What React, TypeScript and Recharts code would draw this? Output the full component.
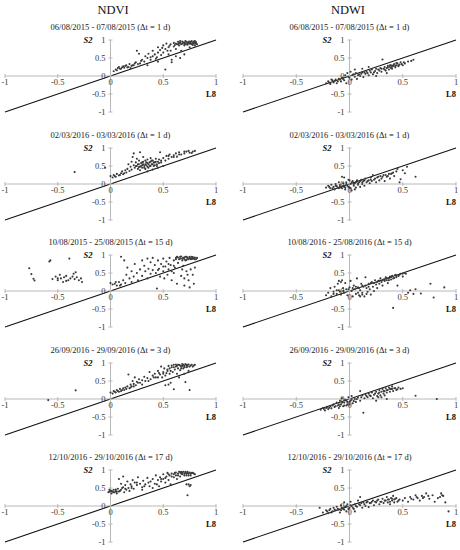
import React from "react";
import { ScatterChart, Scatter, XAxis, YAxis, ReferenceLine, ReferenceDot } from "recharts";

type Pt = [number, number];

const columnTitles = ["NDVI", "NDWI"];
const periodTitles = [
  ["06/08/2015 - 07/08/2015 (\u0394t = 1 d)", "06/08/2015 - 07/08/2015 (\u0394t = 1 d)"],
  ["02/03/2016 - 03/03/2016 (\u0394t = 1 d)", "02/03/2016 - 03/03/2016 (\u0394t = 1 d)"],
  ["10/08/2015 - 25/08/2015 (\u0394t = 15 d)", "10/08/2016 - 25/08/2016 (\u0394t = 15 d)"],
  ["26/09/2016 - 29/09/2016 (\u0394t = 3 d)", "26/09/2016 - 29/09/2016 (\u0394t = 3 d)"],
  ["12/10/2016 - 29/10/2016 (\u0394t = 17 d)", "12/10/2016 - 29/10/2016 (\u0394t = 17 d)"],
];
const xTicks = [-1, -0.5, 0, 0.5, 1];
const yTicks = [1, 0.5, 0, -0.5, -1];
const xAxisName = "L8";
const yAxisName = "S2";

// NDVI, 06/08/2015
const ndviAug2015: Pt[] = [
  [0.03, 0.13], [0.05, 0.18], [0.07, 0.22], [0.08, 0.25], [0.1, 0.2], [0.12, 0.27], [0.13, 0.23], [0.15, 0.3],
  [0.17, 0.25], [0.18, 0.33], [0.2, 0.28], [0.22, 0.3], [0.24, 0.38], [0.25, 0.7], [0.27, 0.62], [0.28, 0.35],
  [0.3, 0.45], [0.32, 0.4], [0.33, 0.55], [0.35, 0.5], [0.36, 0.62], [0.38, 0.45], [0.4, 0.7], [0.4, 0.55],
  [0.42, 0.6], [0.43, 0.48], [0.45, 0.65], [0.45, 0.8], [0.47, 0.72], [0.48, 0.58], [0.5, 0.85], [0.5, 0.65],
  [0.52, 0.75], [0.52, 0.18], [0.53, 0.9], [0.55, 0.6], [0.55, 0.8], [0.57, 0.7], [0.57, 0.88], [0.58, 0.45],
  [0.6, 0.82], [0.6, 0.92], [0.62, 0.75], [0.62, 0.55], [0.63, 0.88], [0.64, 0.95], [0.65, 0.85], [0.66, 0.92],
  [0.67, 0.7], [0.68, 0.9], [0.68, 0.96], [0.7, 0.85], [0.7, 0.93], [0.71, 0.97], [0.72, 0.88], [0.73, 0.92],
  [0.74, 0.95], [0.75, 0.8], [0.75, 0.9], [0.76, 0.94], [0.77, 0.88], [0.78, 0.92], [0.79, 0.96], [0.8, 0.85],
  [0.8, 0.93], [0.81, 0.9], [0.66, 0.5], [0.7, 0.6], [0.58, 0.38], [0.35, 0.3], [0.45, 0.4],
  [0.62, 0.9], [0.64, 0.88], [0.66, 0.97], [0.69, 0.93], [0.7, 0.89], [0.72, 0.95], [0.73, 0.87], [0.74, 0.91],
  [0.76, 0.9], [0.77, 0.97], [0.78, 0.86], [0.79, 0.9], [0.8, 0.97], [0.81, 0.94], [0.82, 0.88], [0.75, 0.96],
  [0.71, 0.9], [0.67, 0.88], [0.65, 0.92], [0.61, 0.86], [0.56, 0.84], [0.54, 0.7], [0.49, 0.78], [0.44, 0.52],
  [0.38, 0.52], [0.29, 0.42], [0.23, 0.35], [0.19, 0.22], [0.14, 0.28], [0.09, 0.2], [0.06, 0.16], [0.11, 0.24],
  [0.16, 0.24], [0.21, 0.3], [0.26, 0.33],
];

// NDWI, 06/08/2015
const ndwiAug2015: Pt[] = [
  [-0.22, -0.2], [-0.2, -0.15], [-0.18, -0.22], [-0.16, -0.12], [-0.15, -0.18], [-0.13, -0.1], [-0.12, -0.2],
  [-0.1, -0.08], [-0.08, -0.15], [-0.07, -0.05], [-0.05, -0.12], [-0.04, 0.02], [-0.03, -0.2], [-0.02, 0.08],
  [0, -0.05], [0.01, 0.12], [0.02, -0.1], [0.03, 0.03], [0.05, -0.02], [0.06, 0.08], [0.07, -0.08], [0.09, 0.05],
  [0.1, 0.0], [0.12, 0.1], [0.13, -0.03], [0.15, 0.06], [0.16, 0.12], [0.18, 0.02], [0.2, 0.1], [0.21, 0.18],
  [0.22, 0.05], [0.24, 0.14], [0.25, 0.2], [0.26, 0.08], [0.28, 0.15], [0.29, 0.22], [0.3, 0.12], [0.31, 0.46],
  [0.32, 0.2], [0.33, 0.25], [0.34, 0.15], [0.35, 0.22], [0.36, 0.28], [0.37, 0.18], [0.38, 0.25], [0.39, 0.3],
  [0.4, 0.2], [0.41, 0.28], [0.42, 0.33], [0.43, 0.24], [0.44, 0.3], [0.45, 0.35], [0.46, 0.27], [0.47, 0.32],
  [0.48, 0.38], [0.5, 0.3], [0.52, 0.35], [0.55, 0.4], [0.58, 0.42], [0.6, 0.45], [0.18, 0.25], [0.12, 0.2],
  [0.05, 0.18], [0.25, 0.0], [0.35, 0.08],
  [-0.19, -0.18], [-0.17, -0.1], [-0.14, -0.14], [-0.11, -0.15], [-0.09, -0.1], [-0.06, -0.08], [-0.01, -0.02],
  [0.04, 0.05], [0.08, 0.02], [0.11, 0.06], [0.14, 0.1], [0.17, 0.08], [0.19, 0.15], [0.23, 0.1], [0.27, 0.18],
  [0.3, 0.2], [0.33, 0.18], [0.36, 0.24], [0.39, 0.22], [0.41, 0.3], [0.43, 0.28], [0.44, 0.36], [0.46, 0.3],
  [0.49, 0.33], [0.51, 0.38], [0.38, 0.3], [0.4, 0.26],
];

// NDVI, 02/03/2016
const ndviMar2016: Pt[] = [
  [-0.34, 0.33], [-0.05, 0.45], [0.0, 0.22], [0.02, 0.18], [0.03, 0.25], [0.05, 0.2], [0.06, 0.28], [0.08, 0.24],
  [0.1, 0.3], [0.11, 0.35], [0.12, 0.27], [0.14, 0.38], [0.15, 0.32], [0.16, 0.42], [0.17, 0.55], [0.18, 0.36],
  [0.19, 0.48], [0.2, 0.62], [0.2, 0.4], [0.21, 0.75], [0.22, 0.52], [0.22, 0.85], [0.23, 0.45], [0.24, 0.6],
  [0.25, 0.5], [0.25, 0.7], [0.26, 0.42], [0.27, 0.55], [0.27, 0.65], [0.28, 0.48], [0.28, 0.88], [0.29, 0.58],
  [0.3, 0.45], [0.3, 0.52], [0.31, 0.62], [0.31, 0.75], [0.32, 0.5], [0.33, 0.55], [0.33, 0.42], [0.34, 0.6],
  [0.35, 0.48], [0.35, 0.68], [0.36, 0.55], [0.37, 0.5], [0.38, 0.62], [0.38, 0.72], [0.39, 0.55], [0.4, 0.65],
  [0.41, 0.5], [0.42, 0.6], [0.43, 0.7], [0.44, 0.55], [0.45, 0.62], [0.46, 0.68], [0.47, 0.88], [0.48, 0.6],
  [0.5, 0.72], [0.5, 0.5], [0.52, 0.65], [0.53, 0.78], [0.55, 0.7], [0.56, 0.82], [0.58, 0.75], [0.6, 0.8],
  [0.62, 0.85], [0.63, 0.76], [0.65, 0.88], [0.67, 0.82], [0.7, 0.85], [0.72, 0.9], [0.75, 0.87], [0.78, 0.9],
  [0.8, 0.92], [0.35, 0.35], [0.28, 0.38], [0.4, 0.4], [0.45, 0.45],
  [0.24, 0.5], [0.26, 0.55], [0.27, 0.47], [0.29, 0.5], [0.3, 0.6], [0.31, 0.55], [0.32, 0.45], [0.33, 0.65],
  [0.34, 0.52], [0.35, 0.58], [0.36, 0.45], [0.37, 0.6], [0.38, 0.5], [0.39, 0.65], [0.4, 0.55], [0.41, 0.6],
  [0.42, 0.52], [0.43, 0.62], [0.44, 0.5], [0.46, 0.58], [0.48, 0.65], [0.55, 0.78], [0.6, 0.75], [0.65, 0.82],
  [0.7, 0.9], [0.74, 0.92], [0.77, 0.86], [0.09, 0.25], [0.13, 0.3], [0.04, 0.22],
];

// NDWI, 02/03/2016
const ndwiMar2016: Pt[] = [
  [-0.22, -0.1], [-0.2, -0.05], [-0.18, -0.12], [-0.17, -0.02], [-0.15, -0.08], [-0.14, -0.15], [-0.13, 0.0],
  [-0.12, -0.06], [-0.1, -0.12], [-0.1, 0.05], [-0.09, -0.03], [-0.08, -0.1], [-0.07, 0.2], [-0.06, 0.02],
  [-0.05, -0.08], [-0.04, -0.15], [-0.03, 0.05], [-0.02, -0.05], [-0.01, 0.12], [0, -0.1], [0.01, 0.0],
  [0.02, -0.18], [0.03, 0.08], [0.04, -0.05], [0.05, 0.02], [0.06, -0.1], [0.07, 0.1], [0.08, -0.02],
  [0.09, 0.05], [0.1, -0.08], [0.11, 0.12], [0.12, 0.0], [0.13, 0.08], [0.14, -0.05], [0.15, 0.15], [0.16, 0.05],
  [0.18, 0.1], [0.19, 0.02], [0.2, 0.18], [0.21, 0.08], [0.22, 0.25], [0.23, 0.12], [0.25, 0.05], [0.26, 0.18],
  [0.28, 0.1], [0.29, 0.22], [0.3, 0.15], [0.32, 0.25], [0.33, 0.08], [0.35, 0.2], [0.37, 0.28], [0.38, 0.15],
  [0.4, 0.3], [0.42, 0.22], [0.44, 0.35], [0.45, 0.42], [0.47, 0.05], [0.48, 0.13], [0.5, 0.38], [0.52, 0.3],
  [0.54, 0.48], [0.62, 0.2], [-0.05, 0.18], [0.0, 0.1], [0.05, -0.15],
  [-0.19, -0.08], [-0.16, -0.12], [-0.13, -0.05], [-0.11, -0.1], [-0.09, -0.08], [-0.07, -0.12], [-0.06, -0.05],
  [-0.04, -0.1], [-0.03, 0.0], [-0.01, -0.08], [0.01, -0.12], [0.02, 0.05], [0.04, 0.0], [0.06, 0.05],
  [0.08, 0.02], [0.1, 0.08], [0.12, 0.05], [0.14, 0.1], [0.17, 0.08], [0.2, 0.12], [0.24, 0.15], [0.27, 0.2],
  [0.31, 0.2], [0.34, 0.25], [0.36, 0.22], [0.39, 0.28], [0.41, 0.32],
];

// NDVI, 10/08/2015 - 25/08/2015
const ndviAug2015b: Pt[] = [
  [-0.77, 0.63], [-0.75, 0.47], [-0.73, 0.34], [-0.72, 0.29], [-0.58, 0.82], [-0.57, 0.85], [-0.39, 0.9],
  [-0.55, 0.33], [-0.52, 0.4], [-0.5, 0.3], [-0.48, 0.45], [-0.47, 0.35], [-0.45, 0.25], [-0.44, 0.38],
  [-0.42, 0.42], [-0.4, 0.3], [-0.38, 0.35], [-0.36, 0.4], [-0.35, 0.48], [-0.34, 0.33], [-0.33, 0.52],
  [-0.32, 0.38], [-0.3, 0.3], [-0.28, 0.35], [-0.27, 0.25], [-0.42, 0.28], [-0.5, 0.35],
  [0.0, 0.22], [0.02, 0.18], [0.04, 0.2], [0.06, 0.15], [0.08, 0.25], [0.1, 0.18], [0.1, 0.95], [0.12, 0.3],
  [0.13, 0.85], [0.14, 0.22], [0.15, 0.45], [0.16, 0.65], [0.18, 0.35], [0.2, 0.55], [0.2, 0.25], [0.22, 0.4],
  [0.23, 0.75], [0.25, 0.5], [0.26, 0.3], [0.28, 0.6], [0.3, 0.42], [0.3, 0.85], [0.32, 0.7], [0.33, 0.55],
  [0.35, 0.35], [0.35, 0.9], [0.36, 0.62], [0.38, 0.48], [0.38, 0.8], [0.4, 0.58], [0.4, 0.92], [0.42, 0.72],
  [0.43, 0.5], [0.44, 0.07], [0.45, 0.85], [0.46, 0.62], [0.47, 0.4], [0.48, 0.75], [0.5, 0.9], [0.5, 0.55],
  [0.51, 0.35], [0.52, 0.68], [0.53, 0.82], [0.54, 0.45], [0.55, 0.6], [0.56, 0.92], [0.57, 0.72], [0.58, 0.3],
  [0.6, 0.85], [0.6, 0.5], [0.61, 0.65], [0.62, 0.92], [0.63, 0.2], [0.64, 0.78], [0.65, 0.88], [0.66, 0.95],
  [0.67, 0.42], [0.68, 0.9], [0.69, 0.7], [0.7, 0.93], [0.7, 0.15], [0.71, 0.85], [0.72, 0.95], [0.72, 0.55],
  [0.73, 0.9], [0.74, 0.3], [0.75, 0.92], [0.75, 0.1], [0.76, 0.88], [0.77, 0.95], [0.78, 0.45], [0.78, 0.9],
  [0.79, 0.2], [0.8, 0.93], [0.8, 0.65], [0.81, 0.88], [0.68, 0.6], [0.58, 0.55],
  [0.62, 0.88], [0.64, 0.93], [0.66, 0.9], [0.67, 0.96], [0.69, 0.92], [0.7, 0.88], [0.71, 0.95], [0.73, 0.93],
  [0.74, 0.88], [0.75, 0.95], [0.76, 0.91], [0.77, 0.89], [0.78, 0.94], [0.79, 0.9], [0.8, 0.88], [0.82, 0.92],
  [0.63, 0.95], [0.68, 0.85], [0.72, 0.86], [0.6, 0.7], [0.55, 0.75], [0.5, 0.68], [0.45, 0.58], [0.7, 0.35],
  [0.76, 0.6], [0.73, 0.45], [0.05, 0.25], [0.09, 0.15],
];

// NDWI, 10/08/2016 - 25/08/2016
const ndwiAug2016: Pt[] = [
  [-0.22, -0.12], [-0.2, -0.05], [-0.18, 0.08], [-0.17, -0.15], [-0.15, -0.02], [-0.14, 0.12], [-0.12, -0.08],
  [-0.11, 0.2], [-0.1, 0.02], [-0.08, -0.1], [-0.07, 0.3], [-0.06, 0.08], [-0.05, -0.05], [-0.04, 0.22],
  [-0.03, 0.05], [-0.02, -0.12], [0, 0.1], [0.01, 0.28], [0.02, 0.0], [0.03, -0.15], [0.04, 0.15], [0.05, 0.05],
  [0.06, -0.08], [0.07, 0.35], [0.08, 0.1], [0.09, -0.12], [0.1, 0.02], [0.11, 0.2], [0.12, -0.05], [0.13, 0.12],
  [0.14, -0.15], [0.15, 0.38], [0.16, 0.08], [0.17, -0.02], [0.18, 0.2], [0.19, 0.05], [0.2, -0.1], [0.21, 0.25],
  [0.22, 0.12], [0.23, 0.0], [0.24, 0.3], [0.25, 0.18], [0.26, 0.08], [0.27, 0.28], [0.28, 0.2], [0.29, 0.35],
  [0.3, 0.25], [0.31, 0.15], [0.32, 0.32], [0.33, 0.28], [0.34, 0.38], [0.35, 0.3], [0.36, 0.22], [0.37, 0.35],
  [0.38, 0.4], [0.39, 0.32], [0.4, 0.42], [0.41, -0.47], [0.42, 0.36], [0.43, 0.45], [0.44, 0.38], [0.45, 0.15],
  [0.46, 0.42], [0.48, 0.48], [0.5, 0.4], [0.52, 0.5], [0.55, -0.05], [0.57, 0.02], [0.6, -0.08], [0.62, 0.05],
  [0.67, -0.07], [0.76, 0.2], [0.79, -0.18], [0.89, 0.1],
  [-0.15, -0.08], [-0.12, 0.02], [-0.09, -0.02], [-0.06, 0.0], [-0.01, 0.05], [0.03, 0.08], [0.06, 0.12],
  [0.09, 0.08], [0.12, 0.15], [0.15, 0.15], [0.18, 0.12], [0.2, 0.22], [0.23, 0.22], [0.26, 0.25], [0.28, 0.28],
  [0.31, 0.3], [0.33, 0.32], [0.35, 0.35], [0.37, 0.3], [0.39, 0.38], [0.41, 0.35], [0.44, 0.42], [0.47, 0.45],
  [0.5, 0.48], [0.53, 0.48], [0.08, -0.05], [0.12, -0.1], [0.16, -0.08], [0.1, -0.15], [-0.08, 0.25], [-0.1, 0.28],
];

// NDVI, 26/09/2016
const ndviSep2016: Pt[] = [
  [-0.59, -0.03], [-0.33, 0.24], [0.0, 0.18], [0.02, 0.15], [0.03, 0.22], [0.05, 0.18], [0.06, 0.25], [0.08, 0.2],
  [0.09, 0.28], [0.1, 0.22], [0.12, 0.3], [0.13, 0.25], [0.14, 0.32], [0.15, 0.28], [0.16, 0.35], [0.17, 0.68],
  [0.18, 0.3], [0.19, 0.4], [0.2, 0.35], [0.21, 0.5], [0.22, 0.42], [0.23, 0.6], [0.24, 0.38], [0.25, 0.48],
  [0.27, 0.55], [0.28, 0.45], [0.3, 0.52], [0.32, 0.62], [0.33, 0.5], [0.35, 0.58], [0.37, 0.75], [0.38, 0.55],
  [0.4, 0.65], [0.42, 0.7], [0.43, 0.6], [0.45, 0.78], [0.47, 0.68], [0.48, 0.9], [0.49, 0.6], [0.5, 0.75],
  [0.51, 0.85], [0.52, 0.65], [0.53, 0.72], [0.54, 0.82], [0.55, 0.92], [0.55, 0.4], [0.56, 0.7], [0.57, 0.78],
  [0.58, 0.88], [0.59, 0.75], [0.6, 0.27], [0.6, 0.95], [0.61, 0.82], [0.62, 0.9], [0.63, 0.7], [0.64, 0.85],
  [0.65, 0.95], [0.66, 0.8], [0.67, 0.9], [0.68, 0.97], [0.69, 0.85], [0.7, 0.92], [0.71, 0.47], [0.71, 0.97],
  [0.72, 0.88], [0.73, 0.95], [0.74, 0.78], [0.75, 0.25], [0.76, 0.93], [0.78, 0.9], [0.8, 0.95], [0.52, 0.38],
  [0.57, 0.45], [0.3, 0.4], [0.45, 0.6],
  [0.58, 0.93], [0.6, 0.88], [0.62, 0.96], [0.63, 0.92], [0.64, 0.95], [0.66, 0.93], [0.67, 0.85], [0.68, 0.92],
  [0.69, 0.95], [0.7, 0.88], [0.72, 0.94], [0.73, 0.9], [0.74, 0.96], [0.75, 0.9], [0.77, 0.95], [0.79, 0.93],
  [0.56, 0.85], [0.54, 0.78], [0.5, 0.7], [0.46, 0.72], [0.41, 0.6], [0.36, 0.5], [0.26, 0.45], [0.22, 0.35],
  [0.19, 0.32], [0.11, 0.25], [0.07, 0.22], [0.04, 0.2], [0.65, 0.6], [0.7, 0.7],
];

// NDWI, 26/09/2016
const ndwiSep2016: Pt[] = [
  [-0.27, -0.3], [-0.25, -0.25], [-0.23, -0.32], [-0.21, -0.22], [-0.2, -0.28], [-0.18, -0.2], [-0.17, -0.26],
  [-0.15, -0.15], [-0.14, -0.22], [-0.12, -0.1], [-0.11, -0.18], [-0.1, -0.25], [-0.09, -0.05], [-0.08, -0.15],
  [-0.07, 0.02], [-0.06, -0.2], [-0.05, -0.1], [-0.04, -0.02], [-0.03, -0.18], [-0.02, -0.08], [-0.01, 0.05],
  [0, -0.15], [0.01, -0.05], [0.02, 0.08], [0.03, -0.12], [0.05, 0.0], [0.06, -0.08], [0.08, 0.05], [0.1, 0.22],
  [0.1, -0.05], [0.12, 0.1], [0.13, -0.38], [0.14, 0.02], [0.15, 0.12], [0.17, 0.05], [0.18, 0.15], [0.2, 0.08],
  [0.21, 0.18], [0.22, 0.02], [0.23, 0.12], [0.25, 0.2], [0.26, 0.08], [0.27, 0.15], [0.28, 0.25], [0.29, 0.1],
  [0.3, 0.2], [0.31, 0.28], [0.32, 0.15], [0.33, 0.22], [0.34, 0.3], [0.35, 0.18], [0.36, 0.25], [0.37, 0.32],
  [0.38, 0.2], [0.39, 0.28], [0.4, 0.35], [0.41, 0.22], [0.42, 0.3], [0.44, 0.25], [0.46, 0.32], [0.48, 0.28],
  [0.5, 0.3], [0.62, 0.09], [0.82, 0.0], [0.25, -0.05], [0.3, 0.05], [0.35, 0.0],
  [-0.24, -0.28], [-0.22, -0.25], [-0.19, -0.24], [-0.16, -0.18], [-0.13, -0.2], [-0.1, -0.15], [-0.09, -0.2],
  [-0.07, -0.1], [-0.05, -0.18], [-0.03, -0.05], [-0.02, -0.15], [0, -0.08], [0.02, -0.02], [0.04, -0.06],
  [0.07, 0.0], [0.11, 0.05], [0.16, 0.08], [0.19, 0.1], [0.24, 0.15], [0.28, 0.18], [0.32, 0.22], [0.35, 0.25],
  [0.38, 0.28], [0.4, 0.28], [0.43, 0.3], [0.45, 0.27], [0.27, 0.05], [0.33, 0.1],
];

// NDVI, 12/10/2016 - 29/10/2016
const ndviOct2016: Pt[] = [
  [-0.02, 0.38], [-0.01, 0.45], [0.0, 0.42], [0.01, 0.35], [0.02, 0.4], [0.03, 0.45], [0.04, 0.38], [0.05, 0.42],
  [0.06, 0.35], [0.07, 0.48], [0.08, 0.4], [0.08, 0.75], [0.1, 0.45], [0.1, 0.62], [0.12, 0.52], [0.12, 0.82],
  [0.13, 0.38], [0.14, 0.58], [0.15, 0.45], [0.16, 0.68], [0.17, 0.5], [0.18, 0.42], [0.19, 0.6], [0.2, 0.55],
  [0.21, 0.72], [0.22, 0.48], [0.23, 0.65], [0.25, 0.58], [0.26, 0.8], [0.28, 0.62], [0.3, 0.52], [0.31, 0.7],
  [0.33, 0.6], [0.35, 0.78], [0.37, 0.55], [0.38, 0.68], [0.4, 0.75], [0.42, 0.62], [0.43, 0.85], [0.45, 0.72],
  [0.46, 0.55], [0.47, 0.8], [0.48, 0.68], [0.5, 0.88], [0.5, 0.75], [0.52, 0.65], [0.53, 0.82], [0.54, 0.92],
  [0.55, 0.72], [0.56, 0.85], [0.57, 0.6], [0.58, 0.9], [0.6, 0.8], [0.61, 0.92], [0.62, 0.85], [0.63, 0.75],
  [0.64, 0.9], [0.65, 0.95], [0.66, 0.82], [0.67, 0.9], [0.68, 0.88], [0.69, 0.95], [0.7, 0.85], [0.71, 0.92],
  [0.72, 0.9], [0.73, 0.3], [0.73, 0.95], [0.74, 0.85], [0.75, 0.55], [0.76, 0.9], [0.78, 0.92], [0.8, 0.88],
  [0.72, 0.6], [0.4, 0.5], [0.3, 0.45],
  [0.6, 0.88], [0.62, 0.93], [0.64, 0.85], [0.66, 0.93], [0.67, 0.95], [0.68, 0.92], [0.7, 0.9], [0.71, 0.95],
  [0.72, 0.85], [0.73, 0.92], [0.74, 0.9], [0.75, 0.93], [0.76, 0.85], [0.77, 0.92], [0.79, 0.9], [0.58, 0.82],
  [0.55, 0.88], [0.52, 0.78], [-0.01, 0.4], [0.01, 0.42], [0.03, 0.38], [0.05, 0.46], [0.06, 0.4], [0.09, 0.42],
  [0.11, 0.5], [0.14, 0.48], [0.2, 0.5], [0.25, 0.65], [0.32, 0.55], [0.36, 0.65], [0.44, 0.6], [0.48, 0.75],
  [0.74, 0.6], [0.76, 0.58],
];

// NDWI, 12/10/2016 - 29/10/2016
const ndwiOct2016: Pt[] = [
  [-0.28, -0.05], [-0.25, -0.18], [-0.22, -0.12], [-0.2, -0.2], [-0.18, -0.08], [-0.16, -0.15], [-0.15, -0.05],
  [-0.13, -0.12], [-0.12, -0.02], [-0.1, -0.1], [-0.09, -0.18], [-0.08, 0.02], [-0.06, -0.08], [-0.05, 0.1],
  [-0.04, -0.02], [-0.03, -0.15], [-0.02, 0.05], [0, -0.05], [0.01, 0.12], [0.02, 0.0], [0.04, -0.08], [0.05, 0.05],
  [0.07, -0.02], [0.08, 0.15], [0.1, 0.02], [0.12, -0.05], [0.13, 0.1], [0.15, 0.0], [0.17, 0.12], [0.18, -0.03],
  [0.2, 0.08], [0.22, 0.15], [0.23, 0.02], [0.25, 0.1], [0.27, 0.18], [0.28, 0.05], [0.3, 0.12], [0.31, 0.2],
  [0.32, 0.08], [0.34, 0.15], [0.35, 0.25], [0.36, 0.1], [0.37, 0.18], [0.38, 0.05], [0.39, 0.22], [0.4, 0.15],
  [0.41, 0.28], [0.42, 0.1], [0.43, 0.2], [0.45, 0.12], [0.47, 0.18], [0.5, 0.15], [0.52, 0.22], [0.55, 0.12],
  [0.57, 0.25], [0.6, 0.18], [0.62, 0.3], [0.64, 0.22], [0.66, 0.15], [0.68, 0.28], [0.7, 0.25], [0.72, 0.35],
  [0.75, 0.2], [0.78, 0.3], [0.8, 0.12], [0.83, 0.22], [0.86, 0.35], [0.88, 0.28], [0.9, 0.1], [0.93, -0.15],
  [0.05, -0.15], [0.1, 0.25],
  [-0.21, -0.15], [-0.19, -0.12], [-0.17, -0.18], [-0.14, -0.1], [-0.11, -0.08], [-0.08, -0.12], [-0.07, -0.05],
  [-0.05, -0.1], [-0.03, 0.0], [-0.01, -0.08], [0.01, 0.02], [0.03, -0.05], [0.06, 0.0], [0.09, 0.05],
  [0.11, 0.08], [0.14, 0.05], [0.16, 0.1], [0.19, 0.08], [0.21, 0.12], [0.24, 0.12], [0.26, 0.15], [0.29, 0.12],
  [0.33, 0.15], [0.36, 0.18], [0.38, 0.12], [0.4, 0.2], [0.42, 0.18], [0.44, 0.22], [0.46, 0.15], [0.58, 0.2],
  [0.63, 0.25], [0.69, 0.22], [0.74, 0.28], [0.85, 0.25], [0.87, 0.3],
];

const ndviSets = [ndviAug2015, ndviMar2016, ndviAug2015b, ndviSep2016, ndviOct2016];
const ndwiSets = [ndwiAug2015, ndwiMar2016, ndwiAug2016, ndwiSep2016, ndwiOct2016];

const FONT = "Liberation Serif";
const AXIS = "#b8b8b8";
const LABEL = "#3a3a3a";

function Dot(props: any) {
  return <circle cx={props.cx} cy={props.cy} r={1.05} fill="#3a3a3a" />;
}

function Panel({ data, title, left, top, ml, mr }: { data: Pt[]; title: string; left: number; top: number; ml: number; mr: number }) {
  const pts = data.map(([x, y]) => ({ x, y }));
  return (
    <div style={{ position: "absolute", left, top, width: 230, height: 122 }}>
      <div
        style={{
          position: "absolute",
          top: 21,
          left: ml,
          width: 230 - ml - mr,
          textAlign: "center",
          fontSize: 8.5,
          lineHeight: "12px",
          color: "#222",
          whiteSpace: "nowrap",
          fontFamily: FONT,
        }}
      >
        {title}
      </div>
      <ScatterChart width={230} height={122} margin={{ top: 40, right: mr, bottom: 10, left: ml }} style={{ position: "absolute", top: 0, left: 0 }}>
        <XAxis type="number" dataKey="x" domain={[-1, 1]} hide allowDataOverflow />
        <YAxis type="number" dataKey="y" domain={[-1, 1]} hide allowDataOverflow />
        <ReferenceLine y={0} stroke={AXIS} strokeWidth={1} />
        <ReferenceLine x={0} stroke={AXIS} strokeWidth={1} />
        {xTicks.map((t) => (
          <ReferenceDot
            key={"x" + t}
            x={t}
            y={0}
            r={0}
            shape={(p: any) => (
              <g>
                <line x1={p.cx} x2={p.cx} y1={p.cy - 2} y2={p.cy + 2} stroke={AXIS} />
                <text x={p.cx} y={p.cy + 9} textAnchor="middle" fontSize={8.5} fontFamily={FONT} fill={LABEL}>
                  {String(t)}
                </text>
              </g>
            )}
          />
        ))}
        {yTicks.map((t) => (
          <ReferenceDot
            key={"y" + t}
            x={0}
            y={t}
            r={0}
            shape={(p: any) => (
              <g>
                <line x1={p.cx - 2} x2={p.cx + 2} y1={p.cy} y2={p.cy} stroke={AXIS} />
                <text x={p.cx - 5} y={p.cy + 3} textAnchor="end" fontSize={8.5} fontFamily={FONT} fill={LABEL}>
                  {String(t)}
                </text>
              </g>
            )}
          />
        ))}
        <ReferenceDot
          x={0}
          y={1}
          r={0}
          shape={(p: any) => (
            <text x={p.cx - 18} y={p.cy + 3} textAnchor="end" fontSize={8.5} fontFamily={FONT} fontWeight="bold" fontStyle="italic" fill="#111">
              {yAxisName}
            </text>
          )}
        />
        <ReferenceDot
          x={1}
          y={-0.5}
          r={0}
          shape={(p: any) => (
            <text x={p.cx} y={p.cy + 3} textAnchor="end" fontSize={8.5} fontFamily={FONT} fontWeight="bold" fill="#111">
              {xAxisName}
            </text>
          )}
        />
        <ReferenceLine
          segment={[
            { x: -1, y: -1 },
            { x: 1, y: 1 },
          ]}
          stroke="#111"
          strokeWidth={1.1}
        />
        <Scatter data={pts} shape={Dot} isAnimationActive={false} />
      </ScatterChart>
    </div>
  );
}

export default function App() {
  const rowTop = (i: number) => i * 107.5;
  return (
    <div style={{ position: "absolute", left: 0, top: 0, width: 460, height: 550, background: "#fff", fontFamily: FONT, overflow: "hidden" }}>
      <div style={{ position: "absolute", top: 2, left: 63, width: 100, textAlign: "center", fontSize: 12.5, lineHeight: "16px", color: "#111" }}>
        {columnTitles[0]}
      </div>
      <div style={{ position: "absolute", top: 2, left: 298, width: 100, textAlign: "center", fontSize: 12.5, lineHeight: "16px", color: "#111" }}>
        {columnTitles[1]}
      </div>
      {ndviSets.map((d, i) => (
        <Panel key={"l" + i} data={d} title={periodTitles[i][0]} left={0} top={rowTop(i)} ml={5} mr={14} />
      ))}
      {ndwiSets.map((d, i) => (
        <Panel key={"r" + i} data={d} title={periodTitles[i][1]} left={230} top={rowTop(i)} ml={13} mr={4} />
      ))}
    </div>
  );
}
